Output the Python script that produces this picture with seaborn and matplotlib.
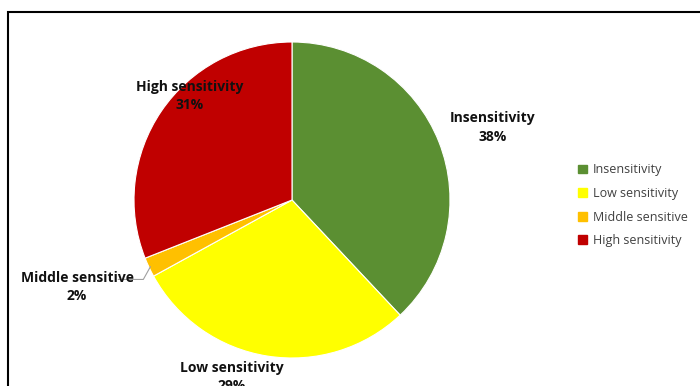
import matplotlib
matplotlib.use("Agg")
import matplotlib.pyplot as plt
import seaborn as sns
import numpy as np

sns.set_theme(style="white")
plt.rcParams['font.family'] = ['Open Sans', 'DejaVu Sans']

categories = ["Insensitivity", "Low sensitivity", "Middle sensitive", "High sensitivity"]
values = [38, 29, 2, 31]
colors = ["#5B8F32", "#FFFF00", "#FFC000", "#C00000"]
# label text positions (data coords, pie radius = 1)
label_pos = [(1.27, 0.46), (-0.38, -1.12), (-1.36, -0.55), (-0.65, 0.66)]

W, H = 700, 386
fig = plt.figure(figsize=(7, 3.86), dpi=100)
cx, cy, r = 292, 200, 158
ax = fig.add_axes([(cx - r) / W, (H - cy - r) / H, 2 * r / W, 2 * r / H])
wedges, _ = ax.pie(values, colors=colors, startangle=90, counterclock=False,
                   radius=1, wedgeprops=dict(edgecolor="white", linewidth=0.8))
ax.set_xlim(-1, 1)
ax.set_ylim(-1, 1)
ax.set_aspect("equal")
ax.axis("off")

for cat, v, (lx, ly) in zip(categories, values, label_pos):
    ax.text(lx, ly, f"{cat}\n{v}%", ha="center", va="center", fontsize=10,
            fontweight="bold", color="#111111", linespacing=1.4, clip_on=False)

# leader line for small slice
w = wedges[2]
ang = np.deg2rad((w.theta1 + w.theta2) / 2)
px, py = np.cos(ang), np.sin(ang)
ax.plot([px * 0.99, px * 1.04, -1.1], [py * 0.99, py * 1.04 - 0.06, py * 1.04 - 0.06],
        color="#A0A0A0", lw=0.8, clip_on=False)

# legend
handles = [plt.Rectangle((0, 0), 1, 1, color=c) for c in colors]
fig.legend(handles, categories, loc="upper left", bbox_to_anchor=(567 / W, 1 - 152 / H),
           frameon=False, fontsize=9, handlelength=0.7, handleheight=0.7,
           handletextpad=0.5, labelspacing=0.85, labelcolor="#404040")

# frame
fig.patches.append(plt.Rectangle((8 / W, -0.05), 1.0, 1 - 12 / H + 0.05,
                                 transform=fig.transFigure, fill=False,
                                 edgecolor="black", linewidth=1.5))

fig.savefig("out.png", dpi=100)
